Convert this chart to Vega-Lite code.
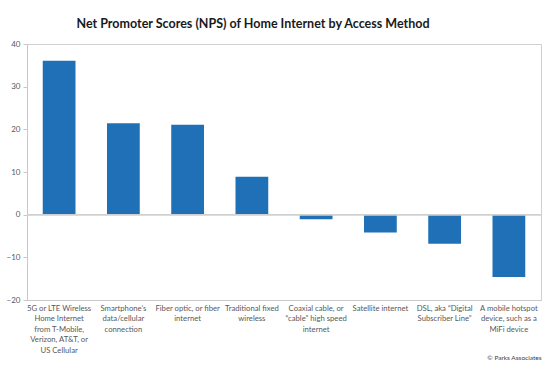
{
  "$schema": "https://vega.github.io/schema/vega-lite/v6.json",
  "width": 514,
  "height": 256,
  "autosize": {"type": "none"},
  "padding": {"left": 27, "top": 44, "right": 9, "bottom": 68},
  "background": "white",
  "title": {
    "text": "Net Promoter Scores (NPS) of Home Internet by Access Method",
    "font": "Lato",
    "fontSize": 12.5,
    "fontWeight": "bold",
    "color": "#1a1a1a",
    "anchor": "middle",
    "dx": -31,
    "offset": 10
  },
  "config": {
    "view": {"stroke": "#d0d0d0", "strokeWidth": 1},
    "axis": {"labelFont": "Lato", "titleFont": "Lato", "labelColor": "#595959", "domainColor": "#c8c8c8", "tickColor": "#c8c8c8", "grid": false}
  },
  "data": {
    "values": [
      {"method": "5G or LTE Wireless\nHome Internet\nfrom T-Mobile,\nVerizon, AT&T, or\nUS Cellular", "nps": 36.1},
      {"method": "Smartphone\u2019s\ndata/cellular\nconnection", "nps": 21.4},
      {"method": "Fiber optic, or fiber\ninternet", "nps": 21.1},
      {"method": "Traditional fixed\nwireless", "nps": 8.9},
      {"method": "Coaxial cable, or\n\u201ccable\u201d high speed\ninternet", "nps": -1.1},
      {"method": "Satellite internet", "nps": -4.2},
      {"method": "DSL, aka \u201cDigital\nSubscriber Line\u201d", "nps": -6.8},
      {"method": "A mobile hotspot\ndevice, such as a\nMiFi device", "nps": -14.6}
    ]
  },
  "layer": [
    {
      "mark": {"type": "bar", "color": "#1f70b7"},
      "encoding": {
        "x": {
          "field": "method",
          "type": "nominal",
          "sort": null,
          "scale": {"paddingInner": 0.49, "paddingOuter": 0.245},
          "axis": {
            "title": "\u00a9 Parks Associates",
            "titleFontSize": 6.5,
            "titleFontWeight": "normal",
            "titleColor": "#404040",
            "titleAnchor": "end",
            "titlePadding": 1,
            "labelAngle": 0,
            "labelFontSize": 7.7,
            "labelLineHeight": 10.5,
            "labelLimit": 0,
            "labelPadding": 4,
            "ticks": false,
            "labelExpr": "split(datum.label, '\\n')"
          }
        },
        "y": {
          "field": "nps",
          "type": "quantitative",
          "scale": {"domain": [-20, 40], "nice": false},
          "axis": {
            "title": null,
            "values": [-20, -10, 0, 10, 20, 30, 40],
            "labelFontSize": 8,
            "tickSize": 4,
            "labelPadding": 3
          }
        }
      }
    },
    {
      "mark": {"type": "rule", "color": "#d0d0d0", "strokeWidth": 1},
      "encoding": {"y": {"datum": 0, "type": "quantitative"}}
    }
  ]
}
